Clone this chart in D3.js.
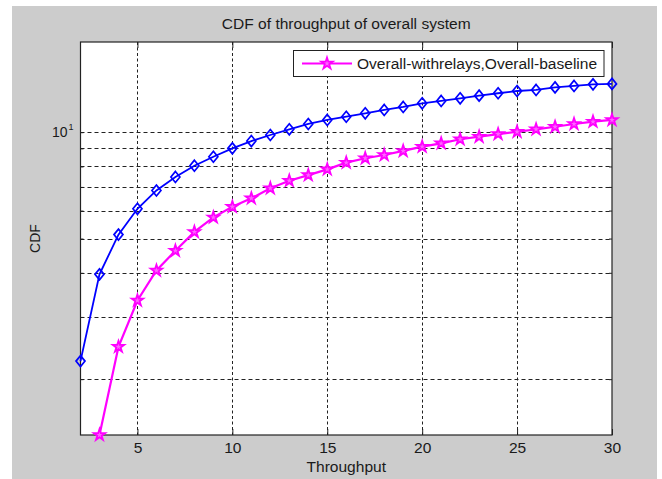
<!DOCTYPE html>
<html>
<head>
<meta charset="utf-8">
<script src="https://cdn.jsdelivr.net/npm/d3@7"></script>
<style>
  html, body { margin: 0; padding: 0; background: #ffffff; }
  svg { display: block; }
  text { font-family: "Liberation Sans", Arial, Helvetica, sans-serif; fill: #1a1a1a; }
</style>
</head>
<body>
<div id="chart"></div>
<script>
// Throughput values for each series (x axis)
const withRelaysX = [2, 3, 4, 5, 6, 7, 8, 9, 10, 11, 12, 13, 14, 15, 16, 17, 18, 19, 20, 21, 22, 23, 24, 25, 26, 27, 28, 29, 30];
const baselineX = [3, 4, 5, 6, 7, 8, 9, 10, 11, 12, 13, 14, 15, 16, 17, 18, 19, 20, 21, 22, 23, 24, 25, 26, 27, 28, 29, 30];

// CDF values (log scale)
const withRelaysY = [2.25, 3.96, 5.13, 6.07, 6.84, 7.47, 8.04, 8.52, 9.00, 9.44, 9.82, 10.19, 10.55, 10.83, 11.06, 11.31, 11.56, 11.79, 12.07, 12.26, 12.47, 12.69, 12.89, 13.08, 13.17, 13.39, 13.52, 13.66, 13.70];
const baselineY = [1.39, 2.47, 3.34, 4.06, 4.62, 5.22, 5.74, 6.15, 6.50, 6.94, 7.29, 7.56, 7.85, 8.20, 8.44, 8.62, 8.85, 9.10, 9.30, 9.55, 9.71, 9.88, 10.03, 10.19, 10.36, 10.55, 10.71, 10.83];

// Axis ticks
const xTicks = [5, 10, 15, 20, 25, 30];
const yGrid = [2, 3, 4, 5, 6, 7, 8, 9, 10];
const yLabelled = [10];
const xDomain = [2, 30];
const yDomain = [1.39, 18];

const titleText = "CDF of throughput of overall system";
const xLabelText = "Throughput";
const yLabelText = "CDF";
const legendText = "Overall-withrelays,Overall-baseline";

const width = 662;
const height = 479;
const plot = { left: 80.5, right: 612, top: 42, bottom: 435 };
const fontSize = 14;
const stretchX = 1.11; // the source picture is a bit wider than tall

// widen text a little so it matches the stretched screenshot
function stretch(sel) {
  sel.each(function () {
    const len = this.getComputedTextLength();
    d3.select(this)
      .attr("textLength", len * stretchX)
      .attr("lengthAdjust", "spacingAndGlyphs");
  });
  return sel;
}

const svg = d3.select("#chart").append("svg")
  .attr("width", width)
  .attr("height", height);

// grey figure background like a MATLAB window
svg.append("rect")
  .attr("x", 12).attr("y", 6)
  .attr("width", 645).attr("height", height - 6)
  .attr("fill", "#cccccc");

svg.append("rect")
  .attr("x", plot.left).attr("y", plot.top)
  .attr("width", plot.right - plot.left).attr("height", plot.bottom - plot.top)
  .attr("fill", "#ffffff");

const x = d3.scaleLinear().domain(xDomain).range([plot.left, plot.right]);
const y = d3.scaleLog().domain(yDomain).range([plot.bottom, plot.top]);

// grid lines
const grid = svg.append("g").attr("stroke", "#222").attr("stroke-width", 1).attr("fill", "none");
grid.selectAll(".vgrid").data(xTicks.filter(d => d < xDomain[1]))
  .join("line")
  .attr("x1", d => Math.round(x(d)) + 0.5).attr("x2", d => Math.round(x(d)) + 0.5)
  .attr("y1", plot.top).attr("y2", plot.bottom)
  .attr("stroke-dasharray", "3,2.5");
grid.selectAll(".hgrid").data(yGrid)
  .join("line")
  .attr("x1", plot.left).attr("x2", plot.right)
  .attr("y1", d => Math.round(y(d)) + 0.5).attr("y2", d => Math.round(y(d)) + 0.5)
  .attr("stroke-dasharray", "4,3");

// axes with inward ticks (bottom + top mirror)
const xAxisBottom = svg.append("g")
  .attr("transform", `translate(0,${plot.bottom})`)
  .call(d3.axisBottom(x).tickValues(xTicks).tickSizeInner(-6).tickSizeOuter(0).tickPadding(8));
const xAxisTop = svg.append("g")
  .attr("transform", `translate(0,${plot.top})`)
  .call(d3.axisTop(x).tickValues(xTicks).tickSizeInner(-6).tickSizeOuter(0).tickFormat(""));

const yAxisLeft = svg.append("g")
  .attr("transform", `translate(${plot.left},0)`)
  .call(d3.axisLeft(y).tickValues(yGrid).tickSizeInner(-3).tickSizeOuter(0).tickFormat(""));
const yAxisRight = svg.append("g")
  .attr("transform", `translate(${plot.right},0)`)
  .call(d3.axisRight(y).tickValues(yGrid).tickSizeInner(-3).tickSizeOuter(0).tickFormat(""));

[xAxisBottom, xAxisTop, yAxisLeft, yAxisRight].forEach(g => {
  g.select(".domain").remove();
  g.selectAll(".tick line").attr("stroke", "#222");
});
xAxisBottom.selectAll(".tick text")
  .attr("font-size", fontSize)
  .attr("fill", "#1a1a1a")
  .style("font-family", "'Liberation Sans', Arial, sans-serif")
  .call(stretch);

// decade label 10^1
const yLab = svg.append("g");
yLabelled.forEach(v => {
  const t = yLab.append("text")
    .attr("x", plot.left - 7)
    .attr("y", y(v) + 5)
    .attr("text-anchor", "end")
    .attr("font-size", fontSize);
  t.append("tspan").text("10");
  t.append("tspan").attr("dx", 1).attr("dy", -7).attr("font-size", 9).text(Math.round(Math.log10(v)));
});

// plot frame
svg.append("rect")
  .attr("x", plot.left).attr("y", plot.top)
  .attr("width", plot.right - plot.left).attr("height", plot.bottom - plot.top)
  .attr("fill", "none").attr("stroke", "#222").attr("stroke-width", 1.2);

const line = d3.line().x(d => x(d[0])).y(d => y(d[1]));

const withRelays = withRelaysX.map((v, i) => [v, withRelaysY[i]]);
const baseline = baselineX.map((v, i) => [v, baselineY[i]]);

// blue diamonds series
svg.append("path")
  .datum(withRelays)
  .attr("d", line)
  .attr("fill", "none")
  .attr("stroke", "#0000ff")
  .attr("stroke-width", 1.8);

const diamond = "M0,-5.5L4.5,0L0,5.5L-4.5,0Z";
svg.append("g").selectAll("path")
  .data(withRelays)
  .join("path")
  .attr("transform", d => `translate(${x(d[0])},${y(d[1])})`)
  .attr("d", diamond)
  .attr("fill", "none")
  .attr("stroke", "#0000ff")
  .attr("stroke-width", 1.7);

// magenta star series
svg.append("path")
  .datum(baseline)
  .attr("d", line)
  .attr("fill", "none")
  .attr("stroke", "#ff00ff")
  .attr("stroke-width", 2.2);

const star = d3.symbol().type(d3.symbolStar).size(40);
svg.append("g").selectAll("path")
  .data(baseline)
  .join("path")
  .attr("transform", d => `translate(${x(d[0])},${y(d[1])})`)
  .attr("d", star)
  .attr("fill", "#ff66ff")
  .attr("stroke", "#ff00ff")
  .attr("stroke-width", 1.8);

// legend
const legend = svg.append("g");
legend.append("rect")
  .attr("x", 293.5).attr("y", 50.5)
  .attr("width", 310.5).attr("height", 26)
  .attr("fill", "#ffffff")
  .attr("stroke", "#222")
  .attr("stroke-width", 1);
legend.append("line")
  .attr("x1", 302).attr("x2", 352)
  .attr("y1", 63.5).attr("y2", 63.5)
  .attr("stroke", "#ff00ff").attr("stroke-width", 2.2);
legend.append("path")
  .attr("transform", "translate(327,63.5)")
  .attr("d", star)
  .attr("fill", "#ff66ff")
  .attr("stroke", "#ff00ff")
  .attr("stroke-width", 1.8);
legend.append("text")
  .attr("x", 357).attr("y", 68.5)
  .attr("font-size", fontSize)
  .text(legendText)
  .call(stretch);

// title and axis labels
svg.append("text")
  .attr("x", (plot.left + plot.right) / 2)
  .attr("y", 29)
  .attr("text-anchor", "middle")
  .attr("font-size", fontSize)
  .text(titleText)
  .call(stretch);

svg.append("text")
  .attr("x", (plot.left + plot.right) / 2)
  .attr("y", 472)
  .attr("text-anchor", "middle")
  .attr("font-size", fontSize)
  .text(xLabelText)
  .call(stretch);

svg.append("text")
  .attr("transform", `translate(40,${(plot.top + plot.bottom) / 2}) rotate(-90)`)
  .attr("text-anchor", "middle")
  .attr("font-size", fontSize)
  .text(yLabelText);
</script>
</body>
</html>
